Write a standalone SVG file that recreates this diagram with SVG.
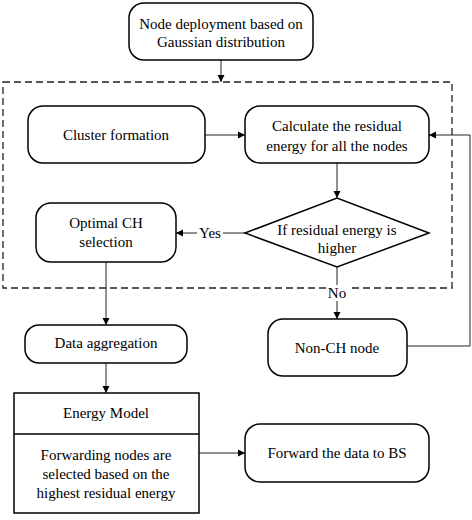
<svg xmlns="http://www.w3.org/2000/svg" width="472" height="520" viewBox="0 0 472 520">
<defs>
<marker id="ah" markerWidth="8" markerHeight="8" refX="7" refY="4" orient="auto" markerUnits="userSpaceOnUse">
<path d="M0,0.5 L7,4 L0,7.5 Z" fill="#000"/>
</marker>
</defs>
<style>
.box{fill:#fff;stroke:#000;stroke-width:1.5}
.t{font-family:'Liberation Serif','DejaVu Serif',serif;font-size:15px;fill:#000;text-anchor:middle;dominant-baseline:central}
.c{fill:none;stroke:#222;stroke-width:1}
.dash{fill:none;stroke:#222;stroke-width:1.3;stroke-dasharray:7,4}
</style>
<rect width="472" height="520" fill="#fff"/>
<rect class="dash" x="3" y="82" width="449" height="206"/>
<g id="connectors">
<line class="c" x1="221" y1="60" x2="221" y2="82" marker-end="url(#ah)"/>
<line class="c" x1="205" y1="135" x2="245" y2="135" marker-end="url(#ah)"/>
<line class="c" x1="337" y1="163" x2="337" y2="198" marker-end="url(#ah)"/>
<line class="c" x1="245" y1="233" x2="176" y2="233" marker-end="url(#ah)"/>
<line class="c" x1="337" y1="267" x2="337" y2="319" marker-end="url(#ah)"/>
<polyline class="c" points="407,346 470,346 470,135 429,135" marker-end="url(#ah)"/>
<line class="c" x1="106" y1="262" x2="106" y2="325" marker-end="url(#ah)"/>
<line class="c" x1="106" y1="363" x2="106" y2="393" marker-end="url(#ah)"/>
<line class="c" x1="199" y1="453" x2="245" y2="453" marker-end="url(#ah)"/>
<rect x="197" y="224" width="26" height="18" fill="#fff"/>
<text class="t" x="210" y="233" font-family="Liberation Serif, serif">Yes</text>
<rect x="326" y="285" width="22" height="16" fill="#fff"/>
<text class="t" x="337" y="293">No</text>
</g>
<g id="n1">
<rect class="box" x="129" y="3" width="184" height="57" rx="15"/>
<text class="t" x="221" y="24">Node deployment based on</text>
<text class="t" x="221" y="42">Gaussian distribution</text>
</g>
<g id="n2">
<rect class="box" x="28" y="106" width="177" height="57" rx="15"/>
<text class="t" x="116" y="135">Cluster formation</text>
</g>
<g id="n3">
<rect class="box" x="245" y="106" width="184" height="57" rx="15"/>
<text class="t" x="337" y="126">Calculate the residual</text>
<text class="t" x="337" y="146">energy for all the nodes</text>
</g>
<g id="n4">
<polygon class="box" points="245,233 337,198 429,233 337,267"/>
<text class="t" x="337" y="230">If residual energy is</text>
<text class="t" x="337" y="248">higher</text>
</g>
<g id="n5">
<rect class="box" x="36" y="203" width="140" height="59" rx="15"/>
<text class="t" x="106" y="223">Optimal CH</text>
<text class="t" x="106" y="242">selection</text>
</g>
<g id="n6">
<rect class="box" x="25" y="325" width="162" height="38" rx="14"/>
<text class="t" x="106" y="343">Data aggregation</text>
</g>
<g id="n7">
<rect class="box" x="268" y="319" width="139" height="57" rx="15"/>
<text class="t" x="337" y="348">Non-CH node</text>
</g>
<g id="n8">
<rect class="box" x="14" y="393" width="185" height="120"/>
<line class="box" x1="14" y1="434" x2="199" y2="434"/>
<text class="t" x="106" y="413">Energy Model</text>
<text class="t" x="106" y="455">Forwarding nodes are</text>
<text class="t" x="106" y="474">selected based on the</text>
<text class="t" x="106" y="493">highest residual energy</text>
</g>
<g id="n9">
<rect class="box" x="245" y="424" width="184" height="58" rx="15"/>
<text class="t" x="337" y="453">Forward the data to BS</text>
</g>
</svg>
